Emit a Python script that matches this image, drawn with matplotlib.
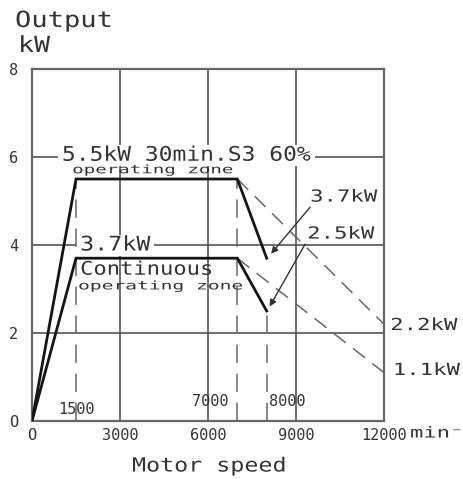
import matplotlib
matplotlib.use('Agg')
import matplotlib.pyplot as plt
from matplotlib import patheffects
from matplotlib.transforms import Affine2D, IdentityTransform
from matplotlib.patches import Rectangle

# output curves (speed in min^-1, output in kW)
speed = [0, 1500, 7000, 8000]
power_s3 = [0, 5.5, 5.5, 3.7]
power_cont = [0, 3.7, 3.7, 2.5]

# dashed extensions above 7000 min^-1
speed_ext = [7000, 12000]
power_s3_ext = [5.5, 2.2]
power_cont_ext = [3.7, 1.1]

# vertical dashed markers
marker_speed = [1500, 7000, 8000]
marker_top = [5.5, 5.5, 2.5]
marker_labels = ['1500', '7000', '8000']

xticks = [0, 3000, 6000, 9000, 12000]
xtick_labels = ['O', '3000', '6000', '9000', '12000']
yticks = [0, 2, 4, 6, 8]
ytick_labels = ['O', '2', '4', '6', '8']

TXT = '#333333'
GRID = '#555555'
LINE = '#151515'
DASH = '#666666'
MONO = ['DejaVu Sans Mono', 'DejaVu Sans']


class Stretch(patheffects.AbstractPathEffect):
    # widen text horizontally, like the letter-spaced CAD lettering
    def __init__(self, sx=1.0):
        super().__init__()
        self.sx = sx

    def draw_path(self, renderer, gc, tpath, affine, rgbFace=None):
        renderer.draw_path(gc, tpath, Affine2D().scale(self.sx, 1.0) + affine, rgbFace)


fig = plt.figure(figsize=(4.64, 4.79), dpi=100)
ax = fig.add_axes([32 / 464, 1 - 421 / 479, 352 / 464, 352 / 479])
ax.set_xlim(0, 12000)
ax.set_ylim(0, 8)

ax.set_xticks(xticks, xtick_labels)
ax.set_yticks(yticks, ytick_labels)
ax.tick_params(length=0, labelsize=11, labelcolor=TXT)
ax.tick_params(axis='x', pad=5)
ax.tick_params(axis='y', pad=10)
for lab in ax.get_xticklabels() + ax.get_yticklabels():
    lab.set_family(MONO)
ax.grid(True, color=GRID, lw=1.2)
ax.set_axisbelow(True)
for sp in ax.spines.values():
    sp.set_color('#666666')
    sp.set_linewidth(1.6)

# main curves
ax.plot(speed, power_s3, color=LINE, lw=2, zorder=4, solid_joinstyle='miter')
ax.plot(speed, power_cont, color=LINE, lw=2, zorder=4, solid_joinstyle='miter')

# dashed extensions
ax.plot(speed_ext, power_s3_ext, color=DASH, lw=1.1, ls=(0, (10, 6)), zorder=3, clip_on=False)
ax.plot(speed_ext, power_cont_ext, color=DASH, lw=1.1, ls=(0, (10, 6)), zorder=3, clip_on=False)

# vertical dashed markers
ax.vlines(marker_speed, 0, marker_top, color=DASH, lw=1.1, linestyles=[(0, (12, 7))], zorder=3)


def label(x, y, s, size, sx, trans=None):
    return ax.text(x, y, s, transform=trans or ax.transData, fontsize=size, family=MONO,
                   color=TXT, ha='left', va='center', clip_on=False, zorder=5,
                   path_effects=[Stretch(sx)])


t_s3 = label(1020, 6.04, '5.5kW 30min.S3 60%', 14.5, 1.14)
label(1370, 5.71, 'operating zone', 8.5, 1.62)
t_cont = label(1640, 4.0, '3.7kW', 14.5, 1.16)
label(1640, 3.45, 'Continuous', 13.5, 1.18)
label(1570, 3.07, 'operating zone', 8.5, 1.66)

label(9480, 5.1, '3.7kW', 12, 1.34)
label(9380, 4.26, '2.5kW', 12, 1.34)
label(12210, 2.18, '2.2kW', 12, 1.34)
label(12300, 1.16, '1.1kW', 12, 1.34)

ax.annotate('', xy=(8150, 3.8), xytext=(9480, 4.86),
            arrowprops=dict(arrowstyle='-|>', color='#333333', lw=1, mutation_scale=10,
                            shrinkA=0, shrinkB=0), zorder=5)
ax.annotate('', xy=(8100, 2.6), xytext=(9310, 4.02),
            arrowprops=dict(arrowstyle='-|>', color='#333333', lw=1, mutation_scale=10,
                            shrinkA=0, shrinkB=0), zorder=5)

# marker speed labels
for xs, s, xoff, yoff, ha in zip(marker_speed, marker_labels, [0, -45, 2], [12, 19, 19],
                                  ['center', 'left', 'left']):
    ax.annotate(s, xy=(xs, 0), xytext=(xoff, yoff), textcoords='offset pixels',
                fontsize=11, family=MONO, color=TXT, ha=ha, va='center')

label(410, 479 - 433, 'min⁻¹', 11, 1.45, IdentityTransform())
fig.text(15 / 464, 1 - 21 / 479, 'Output', fontsize=16, family=MONO, color=TXT,
         ha='left', va='center', path_effects=[Stretch(1.22)])
fig.text(18 / 464, 1 - 46 / 479, 'kW', fontsize=16, family=MONO, color=TXT,
         ha='left', va='center', path_effects=[Stretch(1.2)])
fig.text(132 / 464, 1 - 466 / 479, 'Motor speed', fontsize=14, family=MONO, color=TXT,
         ha='left', va='center', path_effects=[Stretch(1.2)])

# white gaps in the gridlines behind the big labels
fig.canvas.draw()
for t in (t_s3, t_cont):
    bb = t.get_window_extent()
    w = bb.width * t.get_path_effects()[0].sx
    ax.add_artist(Rectangle((bb.x0 - 4, bb.y0 - 1), w + 8, bb.height + 2,
                            transform=IdentityTransform(), facecolor='white',
                            edgecolor='none', zorder=2))

fig.savefig('out.png', dpi=100)
